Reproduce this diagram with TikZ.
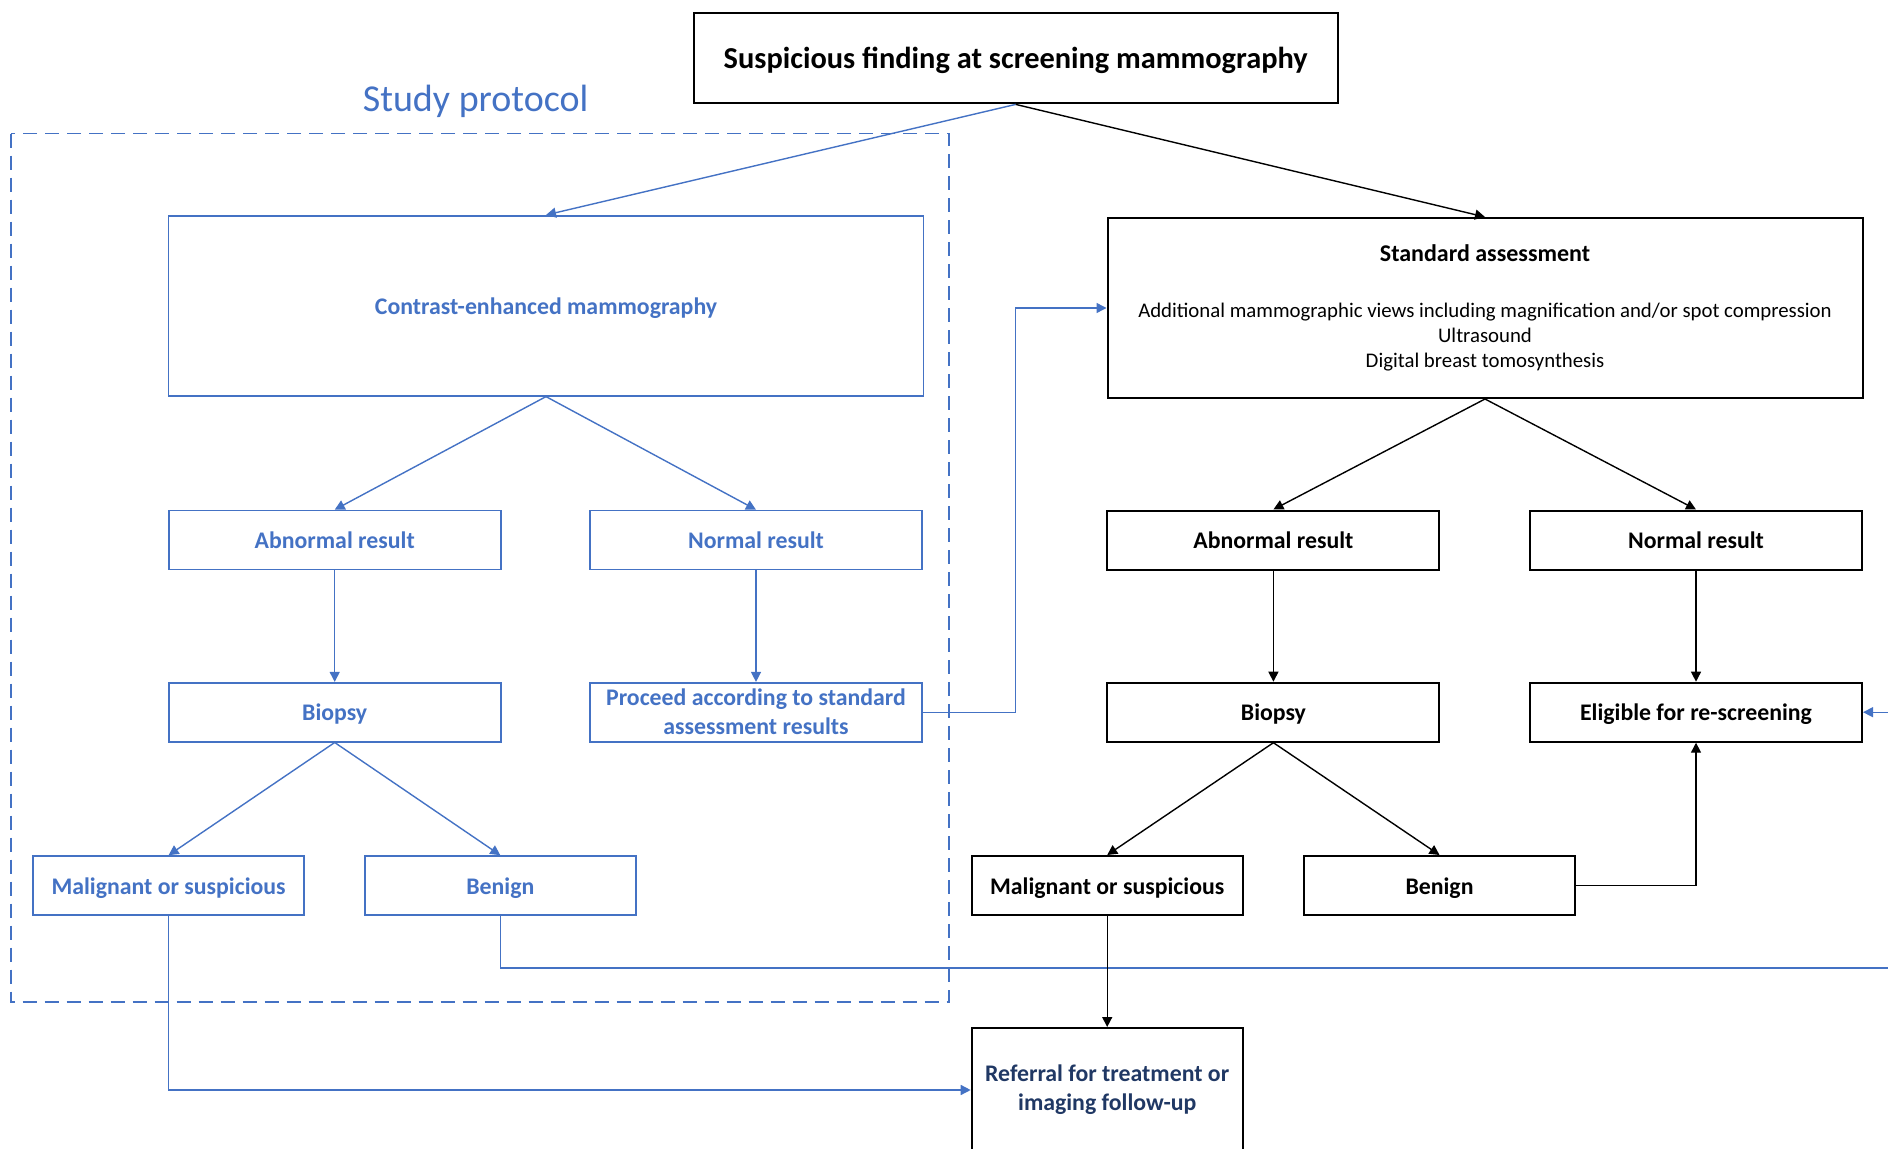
\documentclass[tikz,border=0pt]{standalone}
\usepackage{fontspec}
\setmainfont{Carlito}
\usetikzlibrary{arrows.meta}
\definecolor{protoblue}{HTML}{4472C4}
\definecolor{navy}{HTML}{203864}

\begin{document}
\begin{tikzpicture}[x=0.5pt, y=-0.5pt,
    box/.style={draw, line width=1pt, minimum width=166pt, minimum height=29.5pt,
      inner sep=2pt, align=center, text height=0.85em, text depth=0pt,
      font=\bfseries\fontsize{11.9}{14.5}\selectfont},
    multi/.style={text height={}, text depth={}},
    wide/.style={minimum width=377.5pt, minimum height=90pt},
    leaf/.style={minimum width=135.5pt},
    study/.style={box, draw=protoblue, text=protoblue, line width=0.8pt},
    arr/.style={-{Triangle[length=5pt, width=5pt]}, line width=0.7pt},
    studyarr/.style={arr, color=protoblue}]
  \useasboundingbox (0,0) rectangle (1888,1149);
  \clip (0,0) rectangle (1888,1149);

  \node[box, minimum width=322pt, minimum height=45pt, text height=1em,
    font=\bfseries\fontsize{15.2}{18}\selectfont] (screen) at (1015.7,58.4)
    {Suspicious finding at screening mammography};

  % study arm
  \node[text=protoblue, font=\fontsize{19}{22}\selectfont] (protocol) at (475.6,101) {Study protocol};
  \draw[protoblue, line width=0.75pt, dash pattern=on 7pt off 4pt] (10.8,133.7) rectangle (948.8,1001.8);

  \node[study, wide] (cem) at (546,305.8) {Contrast-enhanced mammography};
  \node[study] (sabn) at (334.7,540) {Abnormal result};
  \node[study] (snorm) at (756,540) {Normal result};
  \node[study] (sbiop) at (334.7,712.2) {Biopsy};
  \node[study, multi] (proceed) at (756,712.2) {Proceed according to standard\\assessment results};
  \node[study, leaf] (smal) at (168.6,885.5) {Malignant or suspicious};
  \node[study, leaf] (sben) at (500.3,885.5) {Benign};

  % standard arm
  \node[box, wide, multi, font=\fontsize{10.4}{12.6}\selectfont] (std) at (1485,308)
    {\textbf{\fontsize{12}{14}\selectfont Standard assessment}\\[15pt]
     Additional mammographic views including magnification and/or spot compression\\
     Ultrasound\\
     Digital breast tomosynthesis};
  \node[box] (abn) at (1273.4,540) {Abnormal result};
  \node[box] (norm) at (1696,540) {Normal result};
  \node[box] (biop) at (1273.4,712.2) {Biopsy};
  \node[box] (elig) at (1696,712.2) {Eligible for re-screening};
  \node[box, leaf] (mal) at (1107.2,885.5) {Malignant or suspicious};
  \node[box, leaf] (ben) at (1439.5,885.5) {Benign};
  \node[box, leaf, multi, minimum height=62pt, text=navy] (refer) at (1107.2,1090)
    {Referral for treatment or\\imaging follow-up};

  \coordinate (beyond) at (1920,968);

  \draw[studyarr] (screen.south) -- (cem.north);
  \draw[arr] (screen.south) -- (std.north);

  \draw[studyarr] (cem.south) -- (sabn.north);
  \draw[studyarr] (cem.south) -- (snorm.north);
  \draw[studyarr] (sabn) -- (sbiop);
  \draw[studyarr] (snorm) -- (proceed);
  \draw[studyarr] (sbiop.south) -- (smal.north);
  \draw[studyarr] (sbiop.south) -- (sben.north);
  \draw[studyarr] (proceed.east) -| (screen.south |- std.west) -- (std.west);
  \draw[studyarr] (smal.south) |- (refer.west);
  \draw[studyarr] (sben.south) |- (beyond) |- (elig.east);

  \draw[arr] (std.south) -- (abn.north);
  \draw[arr] (std.south) -- (norm.north);
  \draw[arr] (abn) -- (biop);
  \draw[arr] (norm) -- (elig);
  \draw[arr] (biop.south) -- (mal.north);
  \draw[arr] (biop.south) -- (ben.north);
  \draw[arr] (ben.east) -| (elig.south);
  \draw[arr] (mal) -- (refer);
\end{tikzpicture}
\end{document}
